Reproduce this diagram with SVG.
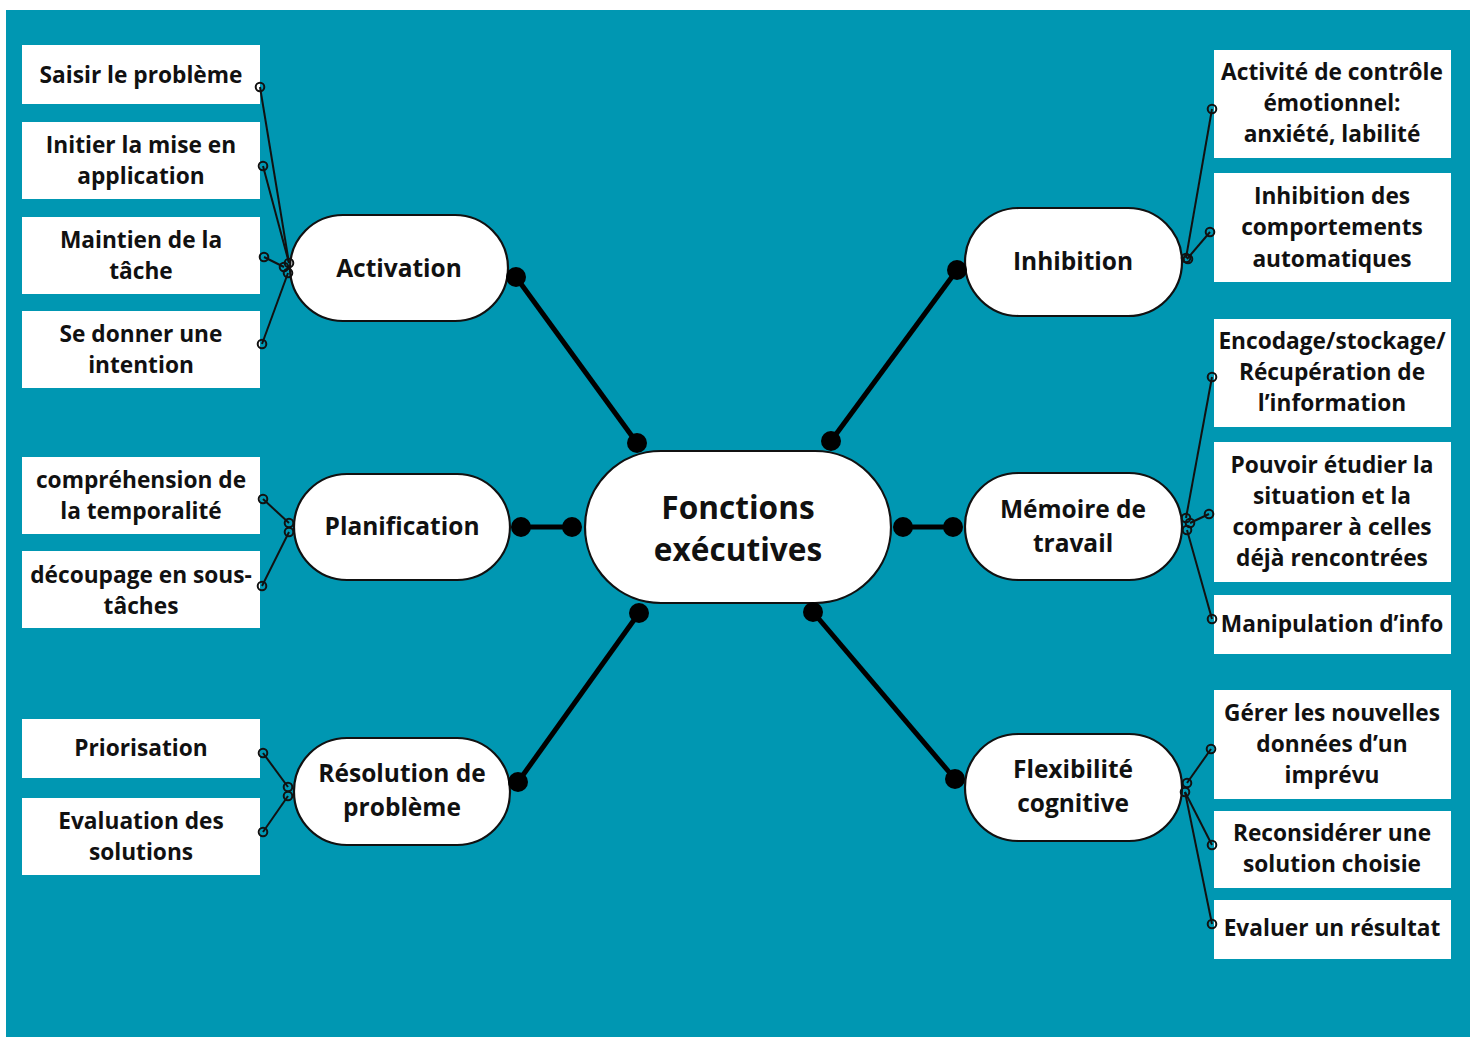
<svg xmlns="http://www.w3.org/2000/svg" width="1476" height="1037" viewBox="0 0 1476 1037">
<style>
.t{font-family:"Open Sans","Liberation Sans",sans-serif;font-weight:700;fill:#111;text-anchor:middle}
.bx{font-size:22.7px}
.pl{font-size:24.5px}
.box{fill:#fff}
.pill{fill:#fff;stroke:#111;stroke-width:2.2}
.big{stroke:#000;stroke-width:5;fill:none}
.dot{fill:#000}
.sm{stroke:#111;stroke-width:2;fill:none}
.oc{fill:none;stroke:#111;stroke-width:2}
</style>
<rect x="0" y="0" width="1476" height="1037" fill="#fff"/>
<rect x="6" y="10" width="1464" height="1027" fill="#0097b2"/>

<g id="central">
<rect class="pill" x="585" y="451" width="306" height="152" rx="76"/>
<text class="t" x="738" y="519" font-size="31.6">Fonctions</text>
<text class="t" x="738" y="561" font-size="31.6">exécutives</text>
</g>

<g id="activation">
<rect class="pill" x="290" y="215" width="218" height="106" rx="53"/>
<text class="t pl" x="399" y="277">Activation</text>
</g>
<g id="planification">
<rect class="pill" x="294" y="474" width="216" height="106" rx="53"/>
<text class="t pl" x="402" y="535">Planification</text>
</g>
<g id="resolution">
<rect class="pill" x="294" y="738" width="216" height="107" rx="53"/>
<text class="t pl" x="402" y="782">Résolution de</text>
<text class="t pl" x="402" y="816">problème</text>
</g>
<g id="inhibition">
<rect class="pill" x="965" y="208" width="217" height="108" rx="54"/>
<text class="t pl" x="1073" y="270">Inhibition</text>
</g>
<g id="memoire">
<rect class="pill" x="965" y="473" width="217" height="107" rx="53"/>
<text class="t pl" x="1073" y="518">Mémoire de</text>
<text class="t pl" x="1073" y="552">travail</text>
</g>
<g id="flexibilite">
<rect class="pill" x="965" y="734" width="217" height="107" rx="53"/>
<text class="t pl" x="1073" y="778">Flexibilité</text>
<text class="t pl" x="1073" y="812">cognitive</text>
</g>

<g id="l1"><rect class="box" x="22" y="45" width="238" height="59"/><text class="t bx" x="141" y="83">Saisir le problème</text></g>
<g id="l2"><rect class="box" x="22" y="122" width="238" height="77"/><text class="t bx" x="141" y="153">Initier la mise en</text><text class="t bx" x="141" y="184">application</text></g>
<g id="l3"><rect class="box" x="22" y="217" width="238" height="77"/><text class="t bx" x="141" y="248">Maintien de la</text><text class="t bx" x="141" y="279">tâche</text></g>
<g id="l4"><rect class="box" x="22" y="311" width="238" height="77"/><text class="t bx" x="141" y="342">Se donner une</text><text class="t bx" x="141" y="373">intention</text></g>
<g id="l5"><rect class="box" x="22" y="457" width="238" height="77"/><text class="t bx" x="141" y="488">compréhension de</text><text class="t bx" x="141" y="519">la temporalité</text></g>
<g id="l6"><rect class="box" x="22" y="551" width="238" height="77"/><text class="t bx" x="141" y="583">découpage en sous-</text><text class="t bx" x="141" y="614">tâches</text></g>
<g id="l7"><rect class="box" x="22" y="719" width="238" height="59"/><text class="t bx" x="141" y="756">Priorisation</text></g>
<g id="l8"><rect class="box" x="22" y="798" width="238" height="77"/><text class="t bx" x="141" y="829">Evaluation des</text><text class="t bx" x="141" y="860">solutions</text></g>

<g id="r1"><rect class="box" x="1214" y="50" width="237" height="108"/><text class="t bx" x="1332" y="80">Activité de contrôle</text><text class="t bx" x="1332" y="111">émotionnel:</text><text class="t bx" x="1332" y="142">anxiété, labilité</text></g>
<g id="r2"><rect class="box" x="1214" y="173" width="237" height="109"/><text class="t bx" x="1332" y="204">Inhibition des</text><text class="t bx" x="1332" y="235">comportements</text><text class="t bx" x="1332" y="267">automatiques</text></g>
<g id="r3"><rect class="box" x="1214" y="319" width="237" height="108"/><text class="t bx" x="1332" y="349">Encodage/stockage/</text><text class="t bx" x="1332" y="380">Récupération de</text><text class="t bx" x="1332" y="411">l’information</text></g>
<g id="r4"><rect class="box" x="1214" y="442" width="237" height="140"/><text class="t bx" x="1332" y="473">Pouvoir étudier la</text><text class="t bx" x="1332" y="504">situation et la</text><text class="t bx" x="1332" y="535">comparer à celles</text><text class="t bx" x="1332" y="566">déjà rencontrées</text></g>
<g id="r5"><rect class="box" x="1214" y="595" width="237" height="59"/><text class="t bx" x="1332" y="632">Manipulation d’info</text></g>
<g id="r6"><rect class="box" x="1214" y="690" width="237" height="109"/><text class="t bx" x="1332" y="721">Gérer les nouvelles</text><text class="t bx" x="1332" y="752">données d’un</text><text class="t bx" x="1332" y="783">imprévu</text></g>
<g id="r7"><rect class="box" x="1214" y="811" width="237" height="77"/><text class="t bx" x="1332" y="841">Reconsidérer une</text><text class="t bx" x="1332" y="872">solution choisie</text></g>
<g id="r8"><rect class="box" x="1214" y="900" width="237" height="59"/><text class="t bx" x="1332" y="936">Evaluer un résultat</text></g>

<g id="connectors">
<line class="big" x1="516" y1="277" x2="637" y2="443"/>
<circle class="dot" cx="516" cy="277" r="10"/><circle class="dot" cx="637" cy="443" r="10"/>
<line class="big" x1="521" y1="527" x2="572" y2="527"/>
<circle class="dot" cx="521" cy="527" r="10"/><circle class="dot" cx="572" cy="527" r="10"/>
<line class="big" x1="518" y1="782" x2="639" y2="613"/>
<circle class="dot" cx="518" cy="782" r="10"/><circle class="dot" cx="639" cy="613" r="10"/>
<line class="big" x1="957" y1="270" x2="831" y2="441"/>
<circle class="dot" cx="957" cy="270" r="10"/><circle class="dot" cx="831" cy="441" r="10"/>
<line class="big" x1="903" y1="527" x2="953" y2="527"/>
<circle class="dot" cx="903" cy="527" r="10"/><circle class="dot" cx="953" cy="527" r="10"/>
<line class="big" x1="955" y1="779" x2="813" y2="612"/>
<circle class="dot" cx="955" cy="779" r="10"/><circle class="dot" cx="813" cy="612" r="10"/>

<line class="sm" x1="260" y1="87" x2="289" y2="263"/>
<line class="sm" x1="263" y1="166" x2="289" y2="263"/>
<line class="sm" x1="264" y1="257" x2="284" y2="267"/>
<line class="sm" x1="262" y1="344" x2="288" y2="273"/>
<circle class="oc" cx="260" cy="87" r="4.3"/><circle class="oc" cx="263" cy="166" r="4.3"/><circle class="oc" cx="264" cy="257" r="4.3"/><circle class="oc" cx="262" cy="344" r="4.3"/>
<circle class="oc" cx="289" cy="263" r="4.3"/><circle class="oc" cx="284" cy="267" r="4.3"/><circle class="oc" cx="288" cy="273" r="4.3"/>

<line class="sm" x1="263" y1="499" x2="289" y2="523"/>
<line class="sm" x1="262" y1="586" x2="289" y2="532"/>
<circle class="oc" cx="263" cy="499" r="4.3"/><circle class="oc" cx="262" cy="586" r="4.3"/>
<circle class="oc" cx="289" cy="523" r="4.3"/><circle class="oc" cx="289" cy="532" r="4.3"/>

<line class="sm" x1="263" y1="753" x2="288" y2="787"/>
<line class="sm" x1="263" y1="832" x2="288" y2="796"/>
<circle class="oc" cx="263" cy="753" r="4.3"/><circle class="oc" cx="263" cy="832" r="4.3"/>
<circle class="oc" cx="288" cy="787" r="4.3"/><circle class="oc" cx="288" cy="796" r="4.3"/>

<line class="sm" x1="1212" y1="109" x2="1186" y2="258"/>
<line class="sm" x1="1210" y1="232" x2="1187" y2="259"/>
<circle class="oc" cx="1212" cy="109" r="4.3"/><circle class="oc" cx="1210" cy="232" r="4.3"/>
<circle class="oc" cx="1186" cy="258" r="4.3"/><circle class="oc" cx="1188" cy="259" r="4.3"/>

<line class="sm" x1="1212" y1="377" x2="1186" y2="518"/>
<line class="sm" x1="1209" y1="514" x2="1190" y2="523"/>
<line class="sm" x1="1212" y1="619" x2="1187" y2="530"/>
<circle class="oc" cx="1212" cy="377" r="4.3"/><circle class="oc" cx="1209" cy="514" r="4.3"/><circle class="oc" cx="1212" cy="619" r="4.3"/>
<circle class="oc" cx="1186" cy="518" r="4.3"/><circle class="oc" cx="1190" cy="523" r="4.3"/><circle class="oc" cx="1187" cy="530" r="4.3"/>

<line class="sm" x1="1211" y1="749" x2="1187" y2="783"/>
<line class="sm" x1="1212" y1="845" x2="1185" y2="792"/>
<line class="sm" x1="1212" y1="924" x2="1185" y2="792"/>
<circle class="oc" cx="1211" cy="749" r="4.3"/><circle class="oc" cx="1212" cy="845" r="4.3"/><circle class="oc" cx="1212" cy="924" r="4.3"/>
<circle class="oc" cx="1187" cy="783" r="4.3"/><circle class="oc" cx="1185" cy="792" r="4.3"/>
</g>
</svg>
